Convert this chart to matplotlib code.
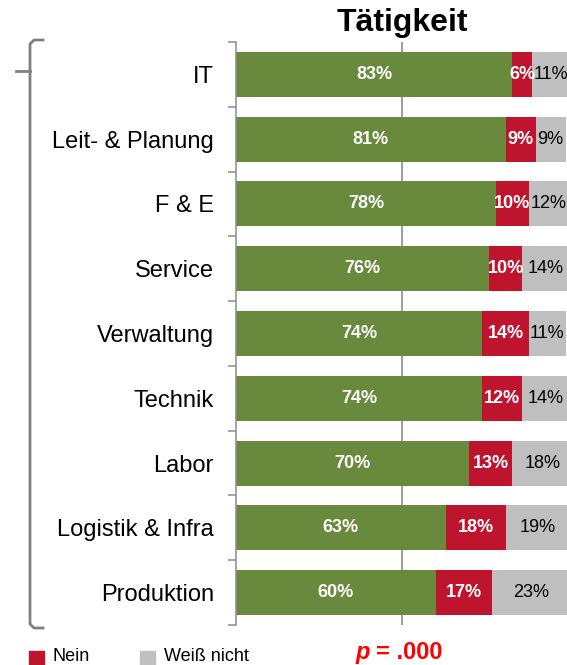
import matplotlib
matplotlib.use("Agg")
import matplotlib.pyplot as plt
from matplotlib.lines import Line2D
from matplotlib.patches import Rectangle

categories = ["IT", "Leit- & Planung", "F & E", "Service", "Verwaltung",
              "Technik", "Labor", "Logistik & Infra", "Produktion"]
ja = [83, 81, 78, 76, 74, 74, 70, 63, 60]
nein = [6, 9, 10, 10, 14, 12, 13, 18, 17]
weiss = [11, 9, 12, 14, 11, 14, 18, 19, 23]
legend_labels = ["Nein", "Weiß nicht"]
title = "Tätigkeit"
p_text = ".000"

GREEN = "#698A3C"
RED = "#BE142D"
GRAY = "#BFBFBF"
AXC = "#8C8C8C"

plt.rcParams['font.family'] = ['Liberation Sans', 'DejaVu Sans']

W, H = 567, 665
fig = plt.figure(figsize=(W / 100, H / 100), dpi=100)


def fx(x):
    return x / W


def fy(y):
    return 1 - y / H


ax = fig.add_axes([fx(236), fy(625), (569 - 236) / W, (625 - 42) / H])
n = len(categories)
ys = list(range(n))
bh = 0.695
ax.axvline(50, color=AXC, lw=1.2, zorder=0)
ax.barh(ys, ja, height=bh, color=GREEN, zorder=2)
left2 = [a for a in ja]
ax.barh(ys, nein, left=left2, height=bh, color=RED, zorder=2)
left3 = [a + b for a, b in zip(ja, nein)]
ax.barh(ys, weiss, left=left3, height=bh, color=GRAY, zorder=2)

for i in ys:
    ax.text(ja[i] / 2, i, f"{ja[i]}%", color="white", fontweight="bold",
            fontsize=13, ha="center", va="center", zorder=3)
    ax.text(ja[i] + nein[i] / 2, i, f"{nein[i]}%", color="white", fontweight="bold",
            fontsize=13, ha="center", va="center", zorder=3)
    ax.text(left3[i] + weiss[i] / 2, i, f"{weiss[i]}%", color="black",
            fontsize=13, ha="center", va="center", zorder=3, clip_on=False)

ax.set_xlim(0, 100)
ax.set_ylim(n - 0.5, -0.5)
ax.set_xticks([])
ax.set_yticks(ys)
ax.set_yticklabels(categories, fontsize=17)
ax.tick_params(axis='y', which='major', length=0, pad=16)
ax.set_yticks([i - 0.5 for i in range(n + 1)], minor=True)
ax.tick_params(axis='y', which='minor', length=6, width=1.1, color=AXC, direction='out')
for s in ["top", "right", "bottom"]:
    ax.spines[s].set_visible(False)
ax.spines["left"].set_color(AXC)
ax.spines["left"].set_linewidth(1.1)

# title
fig.text(fx(402), fy(31), title, ha="center", va="baseline",
         fontsize=23, fontweight="bold")

# bracket
bx = [43, 34, 30, 30, 34, 43]
by = [40, 40, 44, 624, 628, 628]
fig.add_artist(Line2D([fx(x) for x in bx], [fy(y) for y in by], color="#808080",
                      lw=2.0, solid_joinstyle="round"))
fig.add_artist(Line2D([fx(16), fx(30)], [fy(71), fy(71)], color="#808080", lw=2.0))

# legend
sq = [(29, RED), (140, GRAY)]
for (x0, c), lab in zip(sq, legend_labels):
    fig.add_artist(Rectangle((fx(x0), fy(667)), 15 / W, 16 / H, color=c,
                             transform=fig.transFigure))
    fig.text(fx(x0 + 24), fy(661), lab, fontsize=13, ha="left", va="baseline")

# p value
fig.text(fx(356), fy(659), "p", color="#FF0000", fontsize=17, fontweight="bold",
         fontstyle="italic", ha="left", va="baseline")
fig.text(fx(376), fy(659), "= " + p_text, color="#FF0000", fontsize=17,
         fontweight="bold", ha="left", va="baseline")

fig.savefig("out.png", dpi=100)
